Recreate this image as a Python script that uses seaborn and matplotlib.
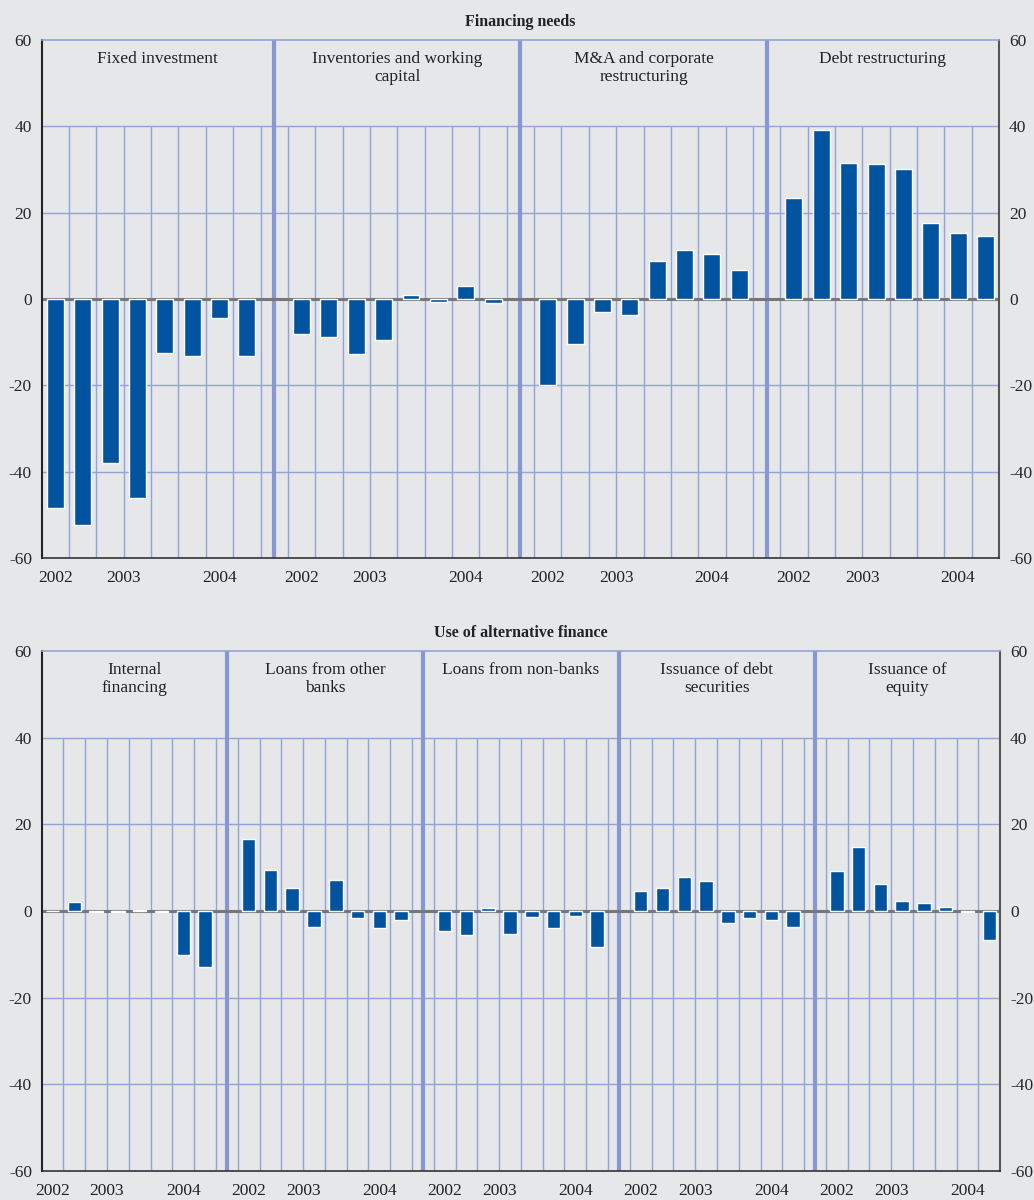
"""
Financing needs and use of alternative finance -- two-panel quarterly bar chart.
Net percentages, 2002 Q4 - 2004 Q3, one block of 8 quarters per category.
"""

import numpy as np
import pandas as pd
import matplotlib
matplotlib.use("Agg")
import matplotlib.pyplot as plt
import seaborn as sns

# --------------------------------------------------------------------------- #
# Data
# --------------------------------------------------------------------------- #
QUARTERS = ["2002Q4", "2003Q1", "2003Q2", "2003Q3", "2003Q4",
            "2004Q1", "2004Q2", "2004Q3"]

NEEDS_TITLE = "Financing needs"
NEEDS_LABELS = ["Fixed investment", "Inventories and working\ncapital",
                "M&A and corporate\nrestructuring", "Debt restructuring"]
fixed_investment = [-48.5, -52.4, -38.0, -46.0, -12.6, -13.3, -4.3, -13.3]
inventories = [-8.2, -8.9, -12.7, -9.6, 1.0, -0.7, 3.1, -0.9]
mergers_acq = [-20.0, -10.5, -3.0, -3.7, 8.7, 11.4, 10.4, 6.7]
debt_restructuring = [23.5, 39.2, 31.4, 31.2, 30.0, 17.7, 15.2, 14.7]

ALT_TITLE = "Use of alternative finance"
ALT_LABELS = ["Internal\nfinancing", "Loans from other\nbanks", "Loans from non-banks",
              "Issuance of debt\nsecurities", "Issuance of\nequity"]
internal_financing = [0.0, 2.1, -0.3, -0.3, 0.3, -0.3, -10.1, -12.9]
loans_other_banks = [16.7, 9.4, 5.2, -3.8, 7.2, -1.6, -4.0, -2.0]
loans_non_banks = [-4.6, -5.6, 0.6, -5.3, -1.4, -3.9, -1.1, -8.4]
debt_securities = [4.6, 5.4, 7.9, 6.9, -2.8, -1.6, -2.0, -3.6]
equity_issuance = [9.3, 14.7, 6.2, 2.2, 1.9, 0.9, -0.3, -6.6]

Y_TICKS = [-60, -40, -20, 0, 20, 40, 60]

# --------------------------------------------------------------------------- #
# Style
# --------------------------------------------------------------------------- #
BG = "#e6e7e9"
BAR = "#00539f"
GRID = "#93a3d8"
SEP = "#8797d2"
ZERO = "#777777"

sns.set_style("white", {"axes.facecolor": BG, "figure.facecolor": BG})
plt.rcParams["font.family"] = ["Liberation Serif", "DejaVu Serif"]
plt.rcParams["text.color"] = "#222222"


def build_frame(series):
    step = len(QUARTERS) + 1          # one empty slot between categories
    rows = []
    for g, vals in enumerate(series):
        for i, v in enumerate(vals):
            rows.append({"pos": g * step + i, "quarter": QUARTERS[i], "value": v})
    return pd.DataFrame(rows)


def draw_panel(ax, title, labels, series):
    n = len(QUARTERS)
    step = n + 1
    last = (len(series) - 1) * step + n - 1
    df = build_frame(series)

    ax.set_xlim(-0.5, last + 0.5)
    ax.set_ylim(Y_TICKS[0], Y_TICKS[-1])

    # background grid: horizontal full width, vertical only up to 40
    for y in Y_TICKS[1:-1]:
        if y != 0:
            ax.axhline(y, color=GRID, lw=1, zorder=1)
    inner = np.arange(0.5, last, 1.0)
    ax.vlines(inner, Y_TICKS[0], 40, color=GRID, lw=1, zorder=1)
    seps = [g * step - 1 for g in range(1, len(series))]
    ax.vlines(seps, Y_TICKS[0], Y_TICKS[-1], color=SEP, lw=3, zorder=1)
    ax.axhline(0, color=ZERO, lw=2.2, zorder=2)

    sns.barplot(data=df, x="pos", y="value", native_scale=True, width=0.62,
                color=BAR, saturation=1, edgecolor="white", linewidth=1,
                errorbar=None, ax=ax, zorder=3)

    # category labels at the top of each block
    for g, lab in enumerate(labels):
        lo = max(g * step - 1, -0.5)
        hi = min(g * step + n, last + 0.5)
        ax.text((lo + hi) / 2, 57.4, lab, ha="center", va="top", fontsize=12.5,
                linespacing=1.12, zorder=4)

    # x axis: small ticks at every slot edge, long ticks at year changes
    years = [q[:4] for q in QUARTERS]
    year_breaks = [i - 0.5 for i in range(1, n) if years[i] != years[i - 1]]
    major = [g * step + b for g in range(len(series)) for b in year_breaks]
    ax.set_xticks(major)
    ax.set_xticklabels([])
    ax.set_xticks(np.arange(-0.5, last + 1, 1.0), minor=True)
    ax.tick_params(axis="x", which="major", direction="out", length=7, width=1,
                   color="#333333")
    ax.tick_params(axis="x", which="minor", direction="out", length=4, width=1,
                   color="#333333")
    for g in range(len(series)):
        for yr in sorted(set(years)):
            centre = np.mean([i for i in range(n) if years[i] == yr])
            ax.annotate(yr, xy=(g * step + centre, 0), xycoords=("data", "axes fraction"),
                        xytext=(0, -8.5), textcoords="offset points",
                        ha="center", va="top", fontsize=12.5)

    ax.set_yticks(Y_TICKS)
    ax.set_yticklabels([str(t) for t in Y_TICKS])
    ax.tick_params(axis="y", length=0, labelleft=True, labelright=True,
                   labelsize=12.5, pad=7)
    ax.set_xlabel("")
    ax.set_ylabel("")

    for side in ["left", "right", "bottom", "top"]:
        ax.spines[side].set_visible(True)
    ax.spines["left"].set_color("#222222")
    ax.spines["left"].set_linewidth(1.5)
    ax.spines["right"].set_color("#555555")
    ax.spines["right"].set_linewidth(1.5)
    ax.spines["bottom"].set_color("#333333")
    ax.spines["bottom"].set_linewidth(1.2)
    ax.spines["top"].set_color(GRID)
    ax.spines["top"].set_linewidth(1.2)

    ax.set_title(title, fontsize=11.5, fontweight="bold", pad=10)


def main():
    fig = plt.figure(figsize=(10.34, 12), dpi=100)
    ax_top = fig.add_axes([0.0403, 0.535, 0.926, 0.4317])
    ax_bot = fig.add_axes([0.0403, 0.0242, 0.927, 0.4333])

    draw_panel(ax_top, NEEDS_TITLE, NEEDS_LABELS,
               [fixed_investment, inventories, mergers_acq, debt_restructuring])
    draw_panel(ax_bot, ALT_TITLE, ALT_LABELS,
               [internal_financing, loans_other_banks, loans_non_banks,
                debt_securities, equity_issuance])

    fig.savefig("out.png", dpi=100, facecolor=BG)
    plt.close(fig)


if __name__ == "__main__":
    main()
